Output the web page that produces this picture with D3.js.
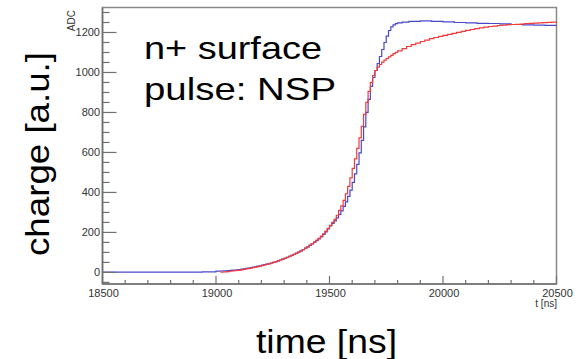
<!DOCTYPE html>
<html><head><meta charset="utf-8">
<script src="https://cdn.jsdelivr.net/npm/d3@7"></script>
<style>html,body{margin:0;padding:0;background:#fff;}svg{display:block;}</style>
</head><body>
<svg id="c" width="582" height="359"></svg>
<script>
// ---- data ----
const blueTime = [18500,18940,
  19000,19010,19020,19030,19040,19050,19060,19070,19080,19090,
  19100,19110,19120,19130,19140,19150,19160,19170,19180,19190,
  19200,19210,19220,19230,19240,19250,19260,19270,19280,19290,
  19300,19310,19320,19330,19340,19350,19360,19370,19380,19390,
  19400,19410,19420,19430,19440,19450,19460,19470,19480,19490,
  19500,19510,19520,19530,19540,19550,19560,19570,19580,19590,
  19600,19610,19620,19630,19640,19650,19660,19670,19680,19690,
  19700,19710,19720,19730,19740,19750,19760,19770,19780,19790,
  19800,19820,19850,19900,19950,20000,20050,20100,20150,20200,
  20250,20300,20350,20400,20450,20500];
const blueCharge = [1,3,
  6,6,7,8,8,9,10,11,12,13,
  14,16,18,20,22,24,26,28,31,33,
  36,39,41,44,47,50,54,58,62,66,
  70,75,80,85,90,96,102,108,114,121,
  128,135,143,151,159,168,178,190,203,217,
  232,245,258,273,290,308,330,353,380,412,
  450,493,540,598,660,728,800,865,930,975,
  1010,1045,1080,1115,1150,1182,1210,1228,1238,1244,
  1248,1252,1256,1258,1256,1253,1250,1248,1246,1245,
  1243,1240,1238,1237,1236,1236];
const redTime = [19020,19030,19040,19050,19060,19070,19080,19090,
  19100,19110,19120,19130,19140,19150,19160,19170,19180,19190,
  19200,19210,19220,19230,19240,19250,19260,19270,19280,19290,
  19300,19310,19320,19330,19340,19350,19360,19370,19380,19390,
  19400,19410,19420,19430,19440,19450,19460,19470,19480,19490,
  19500,19510,19520,19530,19540,19550,19560,19570,19580,19590,
  19600,19610,19620,19630,19640,19650,19660,19670,19680,19690,
  19700,19710,19720,19730,19740,19750,19760,19770,19780,19790,
  19800,19820,19840,19860,19880,19900,19920,19940,19960,19980,
  20000,20020,20040,20060,20080,20100,20120,20140,20160,20180,
  20200,20220,20240,20260,20280,20300,20320,20340,20360,20380,
  20400,20420,20440,20460,20480,20500];
const redCharge = [1,2,3,4,6,7,9,10,
  11,13,15,17,19,21,24,26,29,31,
  34,37,40,43,46,50,54,58,62,66,
  70,75,80,85,90,95,101,107,114,121,
  128,136,144,152,161,170,181,193,206,220,
  235,250,265,286,310,333,360,393,430,473,
  520,568,620,673,730,790,850,905,950,985,
  1010,1027,1040,1052,1062,1070,1078,1086,1094,1101,
  1108,1119,1130,1139,1147,1155,1162,1169,1175,1181,
  1186,1191,1196,1201,1206,1211,1215,1219,1223,1227,
  1230,1232,1235,1237,1239,1240,1241,1242,1244,1246,
  1247,1248,1249,1251,1252,1253];
const xTicks = [18500,19000,19500,20000,20500];
const yTicks = [0,200,400,600,800,1000,1200];
const xDomain = [18500,20500];
const yDomain = [-58,1325];

const svg = d3.select("#c");
const L = 102.5, R = 556.5, T = 7.5, B = 284;
const x = d3.scaleLinear().domain(xDomain).range([L,R]);
const y = d3.scaleLinear().domain(yDomain).range([B,T]);
const font = "'Liberation Sans', Arial, Helvetica, sans-serif";
const axisCol = "#707070";

// frame
svg.append("rect").attr("x",L).attr("y",T).attr("width",R-L).attr("height",B-T)
  .attr("fill","none").attr("stroke","#8a8a8a").attr("stroke-width",1.5);

// curves
const line = d3.line().curve(d3.curveStepAfter);
const blue = blueTime.map((t,i)=>[x(t),y(blueCharge[i])]);
const red = redTime.map((t,i)=>[x(t),y(redCharge[i])]);
svg.append("path").attr("d",line(blue)).attr("fill","none").attr("stroke","#4848cf").attr("stroke-width",1.2);
svg.append("path").attr("d",line(red)).attr("fill","none").attr("stroke","#f23a3a").attr("stroke-width",1.2);

// x axis ticks
const gx = svg.append("g");
d3.range(18500,20501,100).forEach(t=>{
  const major = t%500===0;
  gx.append("line").attr("x1",x(t)).attr("x2",x(t)).attr("y1",B).attr("y2",B-(major?8:4))
    .attr("stroke",axisCol).attr("stroke-width",1.2);
});
xTicks.forEach(t=>{
  gx.append("text").attr("x",x(t)+1).attr("y",297).attr("text-anchor","middle")
    .attr("font-family",font).attr("font-size",11).attr("fill","#333").text(t);
});
// y axis ticks
const gy = svg.append("g");
d3.range(-50,1301,50).forEach(v=>{
  const major = v%200===0;
  gy.append("line").attr("x1",L).attr("x2",L+(major?14:7)).attr("y1",y(v)).attr("y2",y(v))
    .attr("stroke",axisCol).attr("stroke-width",1.2);
});
yTicks.forEach(v=>{
  gy.append("text").attr("x",100).attr("y",y(v)+4).attr("text-anchor","end")
    .attr("font-family",font).attr("font-size",11).attr("fill","#333").text(v);
});
// axis lines
svg.append("line").attr("x1",L).attr("x2",L).attr("y1",T).attr("y2",B).attr("stroke",axisCol).attr("stroke-width",1.6);
svg.append("line").attr("x1",L).attr("x2",R).attr("y1",B).attr("y2",B).attr("stroke",axisCol).attr("stroke-width",1.6);

// small axis titles
svg.append("text").attr("transform","translate(75,10) rotate(-90)").attr("text-anchor","end")
  .attr("font-family",font).attr("font-size",10).attr("fill","#333").text("ADC");
svg.append("text").attr("x",557).attr("y",307).attr("text-anchor","end")
  .attr("font-family",font).attr("font-size",10).attr("fill","#333").text("t [ns]");

// large annotations
svg.append("text").attr("x",144).attr("y",59).attr("font-family",font).attr("font-size",32)
  .attr("textLength",178).attr("lengthAdjust","spacingAndGlyphs").attr("fill","#000").text("n+ surface");
svg.append("text").attr("x",144).attr("y",100).attr("font-family",font).attr("font-size",32)
  .attr("textLength",192).attr("lengthAdjust","spacingAndGlyphs").attr("fill","#000").text("pulse: NSP");
svg.append("text").attr("x",256).attr("y",353).attr("font-family",font).attr("font-size",34)
  .attr("textLength",141).attr("lengthAdjust","spacingAndGlyphs").attr("fill","#000").text("time [ns]");
svg.append("text").attr("transform","translate(49,256) rotate(-90)").attr("font-family",font).attr("font-size",34)
  .attr("textLength",204).attr("lengthAdjust","spacingAndGlyphs").attr("fill","#000").text("charge [a.u.]");
</script>
</body></html>
